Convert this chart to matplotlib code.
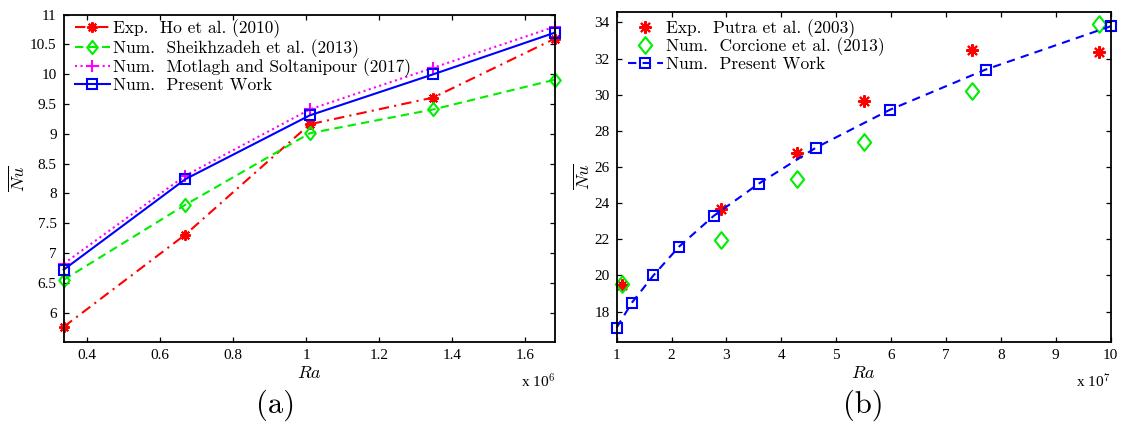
import matplotlib
matplotlib.use('Agg')
import matplotlib.pyplot as plt
from matplotlib.path import Path

plt.rcParams['mathtext.fontset'] = 'cm'

# (a) Ra in units of 1e6
ra_a = [0.337, 0.670, 1.010, 1.348, 1.681]
nu_ho = [5.76, 7.31, 9.16, 9.61, 10.60]
nu_sheikh = [6.55, 7.81, 9.01, 9.41, 9.91]
nu_motlagh = [6.82, 8.30, 9.41, 10.11, 10.80]
nu_present_a = [6.72, 8.24, 9.31, 10.00, 10.70]

# (b) Ra in units of 1e7
ra_putra = [1.10, 2.90, 4.29, 5.51, 7.47, 9.79]
nu_putra = [19.47, 23.69, 26.78, 29.68, 32.50, 32.37]
ra_corcione = [1.10, 2.90, 4.29, 5.51, 7.47, 9.79]
nu_corcione = [19.50, 21.98, 25.33, 27.37, 30.18, 33.91]
ra_present_b = [1.00, 1.28, 1.67, 2.14, 2.77, 3.59, 4.63, 5.98, 7.72, 10.00]
nu_present_b = [17.11, 18.50, 20.00, 21.60, 23.30, 25.08, 27.07, 29.17, 31.39, 33.79]

xticks_a = [0.4, 0.6, 0.8, 1.0, 1.2, 1.4, 1.6]
xticklabels_a = ['0.4', '0.6', '0.8', '1', '1.2', '1.4', '1.6']
yticks_a = [6, 6.5, 7, 7.5, 8, 8.5, 9, 9.5, 10, 10.5, 11]
yticklabels_a = ['6', '6.5', '7', '7.5', '8', '8.5', '9', '9.5', '10', '10.5', '11']
xticks_b = [1, 2, 3, 4, 5, 6, 7, 8, 9, 10]
yticks_b = [18, 20, 22, 24, 26, 28, 30, 32, 34]

# matlab style asterisk and tall diamond
star = (8, 2, 0)
diamond = Path([(0, 1), (0.8, 0), (0, -1), (-0.8, 0), (0, 1)],
               [Path.MOVETO, Path.LINETO, Path.LINETO, Path.LINETO, Path.CLOSEPOLY])

tick_font = 'Liberation Serif'
cm_font = 'cmr10'

fig = plt.figure(figsize=(11.22, 4.30), dpi=100)
ax1 = fig.add_axes([0.0568, 0.2053, 0.4379, 0.7605])
ax2 = fig.add_axes([0.5496, 0.2053, 0.4403, 0.7660])

ax1.plot(ra_a, nu_ho, color='red', lw=1.5, ls=(0, (5, 2.5, 1, 2.5)), marker=star, ms=7.5,
         mew=1.5, label='Exp.  Ho et al. (2010)', clip_on=False)
ax1.plot(ra_a, nu_sheikh, color='#00ee00', lw=1.5, ls=(0, (4, 2.5)), marker=diamond,
         ms=9.5, mfc='none', mew=1.5, label='Num.  Sheikhzadeh et al. (2013)', clip_on=False)
ax1.plot(ra_a, nu_motlagh, ':', color='magenta', lw=1.5, marker='+', ms=8, mew=1.5,
         label='Num.  Motlagh and Soltanipour (2017)', clip_on=False)
ax1.plot(ra_a, nu_present_a, '-', color='blue', lw=1.5, marker='s', ms=6.5,
         mfc='none', mew=1.5, label='Num.  Present Work', clip_on=False)

ax1.set_xlim(0.337, 1.681)
ax1.set_ylim(5.51, 11)
ax1.set_xticks(xticks_a)
ax1.set_xticklabels(xticklabels_a)
ax1.set_yticks(yticks_a)
ax1.set_yticklabels(yticklabels_a)

ax2.plot(ra_putra, nu_putra, ls='none', color='red', marker=star, ms=9, mew=1.5,
         label='Exp.  Putra et al. (2003)', clip_on=False)
ax2.plot(ra_corcione, nu_corcione, ls='none', color='#00ee00', marker=diamond, ms=12,
         mfc='none', mew=1.5, label='Num.  Corcione et al. (2013)', clip_on=False)
ax2.plot(ra_present_b, nu_present_b, color='blue', lw=1.5, ls=(0, (4, 3)), marker='s',
         ms=7.5, mfc='none', mew=1.5, label='Num.  Present Work', clip_on=False)

ax2.set_xlim(1, 10)
ax2.set_ylim(16.33, 34.56)
ax2.set_xticks(xticks_b)
ax2.set_xticklabels([str(v) for v in xticks_b])
ax2.set_yticks(yticks_b)
ax2.set_yticklabels([str(v) for v in yticks_b])

for ax, exp, anchor, spacing in ((ax1, 6, (0.023, 0.986), 0.05),
                                 (ax2, 7, (0.023, 0.98), 0.0)):
    for s in ax.spines.values():
        s.set_linewidth(1.3)
    ax.tick_params(direction='in', top=True, right=True, length=3.5, width=0.9,
                   labelsize=11, pad=5)
    for lab in ax.get_xticklabels() + ax.get_yticklabels():
        lab.set_family(tick_font)
    ax.set_xlabel(r'$Ra$', fontsize=13, labelpad=2)
    ax.set_ylabel(r'$\overline{Nu}$', fontsize=13, labelpad=1)
    ax.text(1.0, -0.095, 'x 10$^{%d}$' % exp, transform=ax.transAxes, ha='right',
            va='top', fontsize=11, family=tick_font)
    ax.legend(loc='upper left', bbox_to_anchor=anchor, frameon=False,
              numpoints=1, handlelength=2.0, handletextpad=0.2, labelspacing=spacing,
              borderpad=0, borderaxespad=0, prop={'family': cm_font, 'size': 12.5})

fig.text(0.2455, 0.02, '(a)', ha='center', va='bottom', fontsize=22, family=cm_font)
fig.text(0.7696, 0.02, '(b)', ha='center', va='bottom', fontsize=22, family=cm_font)

fig.savefig('out.png', dpi=100)
